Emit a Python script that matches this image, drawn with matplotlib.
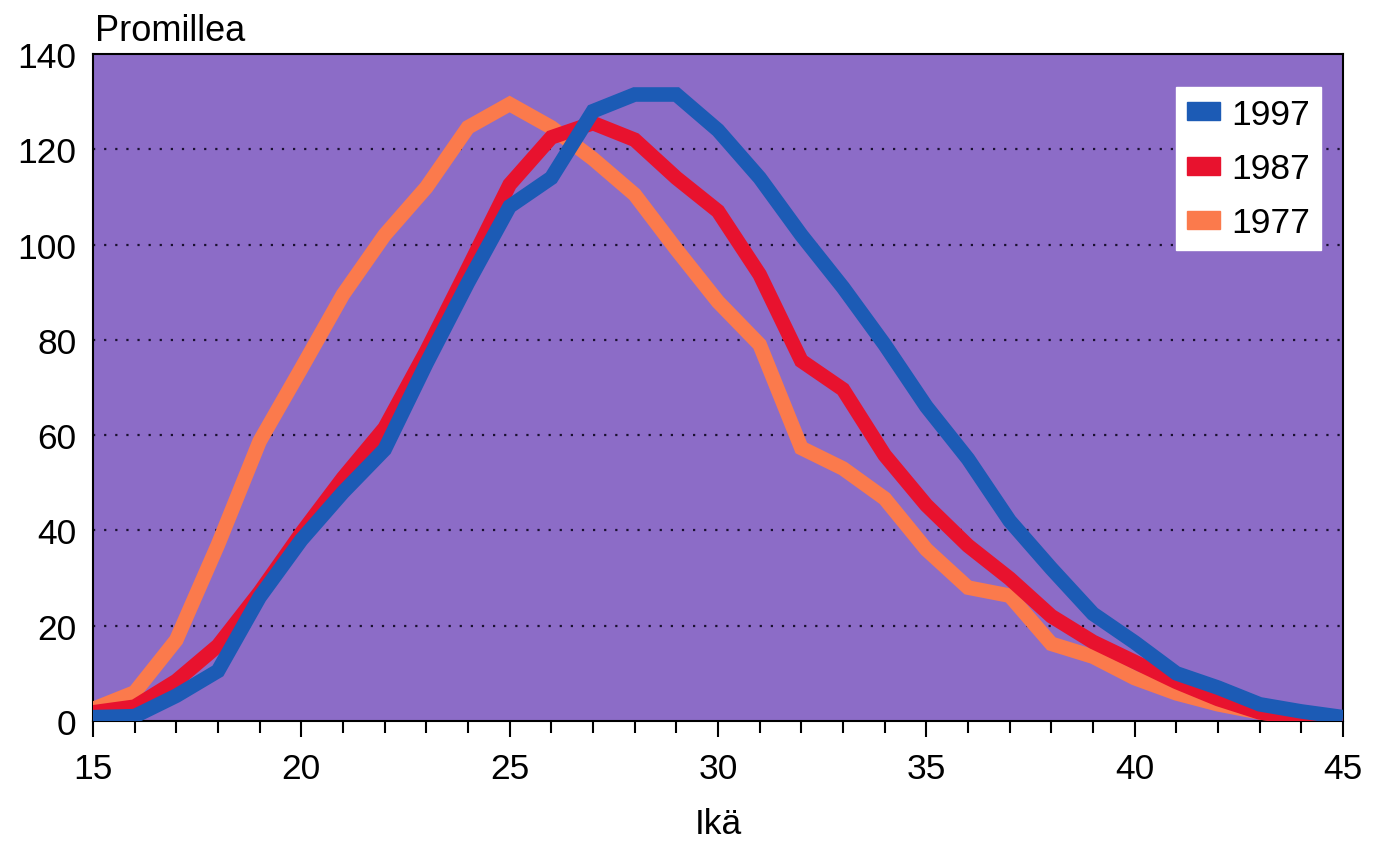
import matplotlib
matplotlib.use("Agg")
import matplotlib.pyplot as plt
from matplotlib.patches import Patch
from matplotlib.ticker import MultipleLocator

ages = list(range(15, 46))
v1997 = [0.8, 1.0, 5.3, 10.5, 26, 38, 48, 57, 75, 92, 108, 114, 128, 131.5, 131.5, 124,
         114, 102, 91, 79, 66, 55, 42, 32, 22.5, 16.5, 10, 7, 3.5, 2, 0.8]
v1987 = [1.8, 3, 8.4, 15.8, 27, 39.4, 51, 61.5, 77.6, 95, 112.6, 122.5, 125.5, 122, 114, 107,
         93.7, 75.6, 69.6, 55.8, 45.3, 36.8, 29.9, 22, 16.6, 12.4, 8.2, 4.6, 1.8, 0.6, 0]
v1977 = [2.5, 6, 17, 37, 58.7, 74, 89.5, 102, 112, 124.6, 129.5, 124.6, 118, 110.5, 99, 88,
         79, 57.3, 53, 46.7, 36, 28, 26.3, 16.2, 13.5, 9, 5.8, 3.5, 1.8, 0.8, 0]

series = [("1997", v1997, "#1c5bb5"), ("1987", v1987, "#e8122e"), ("1977", v1977, "#fb7a4c")]

plt.rcParams['font.family'] = ['Liberation Sans', 'DejaVu Sans']
fig = plt.figure(figsize=(13.81, 8.45), dpi=100)
ax = fig.add_axes([0.0673, 0.1456, 0.9052, 0.7893])
ax.set_facecolor("#8c6cc7")

for name, vals, col in reversed(series):
    ax.plot(ages, vals, color=col, lw=10.5, solid_joinstyle='miter', solid_capstyle='butt', zorder=3)

ax.set_xlim(15, 45)
ax.set_ylim(0, 140)
ax.set_yticks(range(0, 141, 20))
ax.set_xticks(range(15, 46, 5))
ax.xaxis.set_minor_locator(MultipleLocator(1))
for y in range(20, 140, 20):
    ax.axhline(y, color="#1a1030", lw=1.6, ls=(0, (1, 4)), zorder=1)

ax.tick_params(axis='x', which='major', direction='out', length=11.5, width=1.5, labelsize=25.5, pad=11)
ax.tick_params(axis='x', which='minor', direction='out', length=8.5, width=1.5)
ax.tick_params(axis='y', which='both', length=0, labelsize=25.5, pad=12)
for s in ax.spines.values():
    s.set_linewidth(1.5)
    s.set_color("black")

ax.set_xlabel("Ikä", fontsize=25.5, labelpad=16)
fig.text(0.069, 0.952, "Promillea", fontsize=26, ha='left', va='baseline')

handles = [Patch(facecolor=c, edgecolor=c, label=n) for n, _, c in series]
leg = ax.legend(handles=handles, loc='upper right', bbox_to_anchor=(0.982, 0.95),
                fontsize=25.5, frameon=True, fancybox=False, framealpha=1,
                handlelength=0.95, handleheight=0.4, handletextpad=0.3,
                labelspacing=0.6, borderpad=0.3, borderaxespad=0)
leg.get_frame().set_edgecolor("white")
leg.get_frame().set_facecolor("white")

fig.savefig("out.png", dpi=100)
